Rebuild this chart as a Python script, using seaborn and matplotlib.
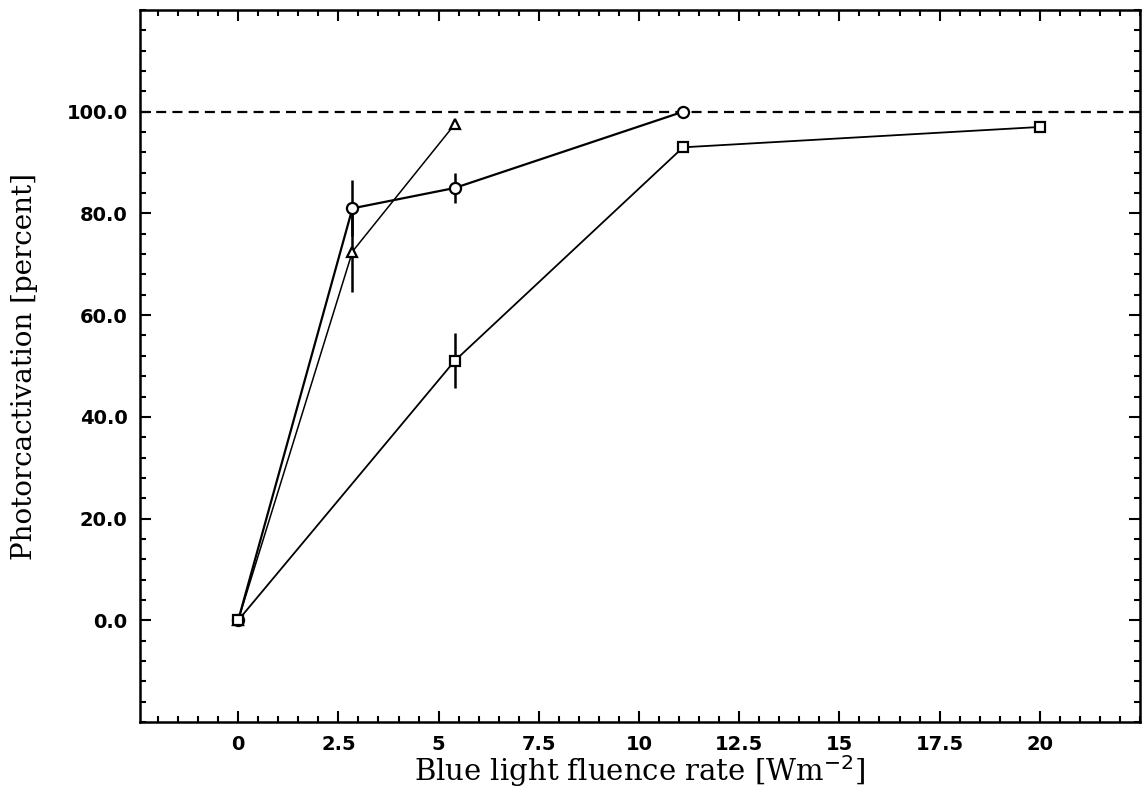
import numpy as np
import pandas as pd
import matplotlib
matplotlib.use("Agg")
import matplotlib.pyplot as plt
import seaborn as sns
from matplotlib.ticker import MultipleLocator, FormatStrFormatter, FuncFormatter

# Datos
x_circulo = [0.0, 2.85, 5.4, 11.1]
y_circulo = [0.0, 81.0, 85.0, 100.0]
err_circulo = [0.0, 5.5, 3.0, 0.0]

x_triangulo = [0.0, 2.85, 5.4]
y_triangulo = [0.0, 72.5, 97.5]
err_triangulo = [0.0, 8.0, 0.0]

x_cuadrado = [0.0, 5.4, 11.1, 20.0]
y_cuadrado = [0.0, 51.0, 93.0, 97.0]
err_cuadrado = [0.0, 5.4, 0.0, 0.0]

xticks = [0, 2.5, 5, 7.5, 10, 12.5, 15, 17.5, 20]
yticks = [0, 20, 40, 60, 80, 100]

sns.set_style("ticks", {"axes.edgecolor": "black", "xtick.color": "black",
                        "ytick.color": "black", "text.color": "black",
                        "axes.labelcolor": "black"})
plt.rcParams['font.family'] = ['DejaVu Serif']

fig = plt.figure(figsize=(11.48, 7.92), dpi=100)
ax = fig.add_axes([140/1148, 70/792, 1000/1148, 712/792])

series = [
    ("circulo", x_circulo, y_circulo, err_circulo, "o", 1.6, 8),
    ("triangulo", x_triangulo, y_triangulo, err_triangulo, "^", 1.1, 7),
    ("cuadrado", x_cuadrado, y_cuadrado, err_cuadrado, "s", 1.3, 7.5),
]

for nombre, xs, ys, errs, mk, lw, ms in series:
    df = pd.DataFrame({"x": xs, "y": ys, "err": errs})
    # barras de error sin tapa
    con_err = df[df["err"] > 0]
    ax.vlines(con_err["x"], con_err["y"] - con_err["err"], con_err["y"] + con_err["err"],
              color="black", lw=1.8, zorder=2)
    sns.lineplot(data=df, x="x", y="y", ax=ax, color="black", lw=lw, sort=False,
                 estimator=None, marker=mk, markersize=ms, markerfacecolor="white",
                 markeredgecolor="black", markeredgewidth=1.6, zorder=3)

# linea de referencia 100 %
ax.axhline(100, color="black", lw=1.6, ls=(0, (4.5, 2.8)), zorder=1)

ax.set_xlim(-2.45, 22.5)
ax.set_ylim(-20, 120)
ax.set_xticks(xticks)
ax.set_yticks(yticks)
ax.xaxis.set_minor_locator(MultipleLocator(0.5))
ax.yaxis.set_minor_locator(MultipleLocator(4))
ax.xaxis.set_major_formatter(FuncFormatter(lambda v, p: f"{v:g}"))
ax.yaxis.set_major_formatter(FormatStrFormatter("%.1f"))

ax.tick_params(which="both", direction="in", top=True, right=True, width=1.5,
               colors="black")
ax.tick_params(which="major", length=8, pad=9)
ax.tick_params(which="minor", length=4)
for lab in ax.get_xticklabels() + ax.get_yticklabels():
    lab.set_fontweight("bold")
    lab.set_fontsize(14)
    lab.set_family("DejaVu Sans")

for sp in ax.spines.values():
    sp.set_linewidth(1.8)
    sp.set_color("black")

ax.set_xlabel(r"Blue light fluence rate [Wm$^{-2}$]", fontsize=21, labelpad=0)
ax.set_ylabel("Photorcactivation [percent]", fontsize=20)
ax.yaxis.set_label_coords(-0.102, 0.5)

fig.savefig("out.png", dpi=100)
